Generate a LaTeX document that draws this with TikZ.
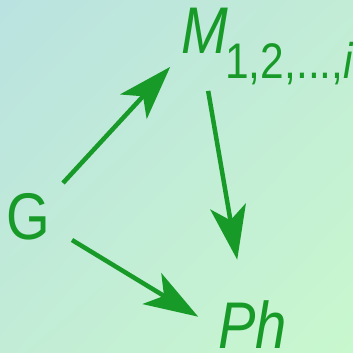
\documentclass[tikz,border=0pt]{standalone}
\usepackage{fontspec}
\setmainfont{Liberation Sans}
\usetikzlibrary{arrows.meta,shadings}
\definecolor{txtgreen}{RGB}{24,154,40}
\definecolor{bgA}{RGB}{186,226,224}
\definecolor{bgB}{RGB}{200,248,206}
\definecolor{bgC}{RGB}{194,236,214}
\newcommand{\narrow}[1]{\scalebox{0.85}[1]{#1}}
\tikzset{
  lbl/.style={inner sep=0pt, text=txtgreen, font=\fontsize{66}{72}\selectfont},
  sublbl/.style={inner sep=0pt, text=txtgreen, font=\fontsize{50}{56}\selectfont},
  arr/.style={draw=txtgreen, line width=4.5pt, -{Stealth[length=54pt,width=36pt,inset=14pt]}}
}
\begin{document}
\begin{tikzpicture}[x=1pt,y=-1pt]
\shade[upper left=bgA, lower right=bgB, upper right=bgC, lower left=bgC] (0,0) rectangle (353,353);
\useasboundingbox (0,0) rectangle (353,353);
\node[lbl] (G) at (28,217) {\narrow{G}};
\node[lbl, anchor=base west] (M) at (181,53) {\narrow{\itshape M}};
\node[sublbl, anchor=base west] (S) at ([shift={(-3pt,-25pt)}]M.base east) {\narrow{1,2,...,\itshape i}};
\node[lbl, anchor=base west] (Ph) at (218,348) {\narrow{\itshape Ph}};
\draw[arr] ([shift={(35,-34)}]G.center) -- ([shift={(-34.4,36.6)}]M.center);
\draw[arr] ([shift={(3.6,60.6)}]M.center) -- ([shift={(-15.3,-64.4)}]Ph.center);
\draw[arr] ([shift={(44,23)}]G.center) -- ([shift={(-54.3,-7.4)}]Ph.center);
\end{tikzpicture}
\end{document}
